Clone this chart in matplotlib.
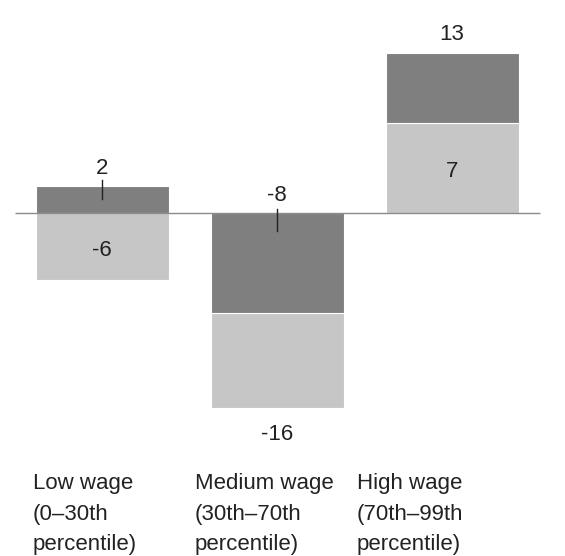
import matplotlib
matplotlib.use("Agg")
import matplotlib.pyplot as plt
import numpy as np

plt.rcParams['font.family'] = ['Liberation Sans', 'DejaVu Sans']

categories = ["Low wage\n(0–30th\npercentile)",
              "Medium wage\n(30th–70th\npercentile)",
              "High wage\n(70th–99th\npercentile)"]
dark_vals = [2.15, -8.1, 5.7]
light_vals = [-5.45, -7.7, 7.3]
dark_labels = ["2", "-8", "13"]
light_labels = ["-6", "-16", "7"]

DARK = "#7f7f7f"
LIGHT = "#c6c6c6"
TXT = "#222222"

W, H = 565, 556
fig = plt.figure(figsize=(W / 100, H / 100), dpi=100)
ax = fig.add_axes([0, 0, 1, 1])
ax.set_axis_off()

px_x = 175.0       # pixels per category unit
px_y = 12.33       # pixels per value unit
x0_px, zero_px = 102.0, 213.0
ax.set_xlim(-x0_px / px_x, (W - x0_px) / px_x)
ax.set_ylim(-(H - zero_px) / px_y, zero_px / px_y)

x = np.arange(len(categories))
bw = 133 / px_x
dark = np.array(dark_vals)
light = np.array(light_vals)

# stacking: positives stack light first then dark; negatives stack dark first then light
light_bottom = np.where((light < 0) & (dark < 0), dark, 0.0)
dark_bottom = np.where((dark > 0) & (light > 0), light, 0.0)

ax.bar(x, light, bottom=light_bottom, width=bw, color=LIGHT,
       edgecolor="white", linewidth=0.8, zorder=2)
ax.bar(x, dark, bottom=dark_bottom, width=bw, color=DARK,
       edgecolor="white", linewidth=0.8, zorder=2)

ax.hlines(0, -0.5, 2.5, color="#8a8a8a", linewidth=1.0, zorder=3)

fs = 16
d = 1.0 / px_y  # one pixel in value units
for i in range(len(x)):
    dtop = dark_bottom[i] + dark[i]
    ltop = light_bottom[i] + light[i]
    if i == 0:
        ax.text(x[i], dtop + 18 * d, dark_labels[i], ha="center", va="center",
                fontsize=fs, color=TXT)
        ax.plot([x[i], x[i]], [dtop + 6 * d, dtop - 13 * d], color=TXT,
                lw=1.0, zorder=4)
        ax.text(x[i], ltop / 2 - 4 * d, light_labels[i], ha="center", va="center",
                fontsize=fs, color=TXT)
    elif i == 1:
        ax.text(x[i], 18 * d, dark_labels[i], ha="center", va="center",
                fontsize=fs, color=TXT)
        ax.plot([x[i], x[i]], [4 * d, -18 * d], color=TXT, lw=1.0, zorder=4)
        ax.text(x[i], ltop - 27 * d, light_labels[i], ha="center", va="center",
                fontsize=fs, color=TXT)
    else:
        ax.text(x[i], dtop + 18 * d, dark_labels[i], ha="center", va="center",
                fontsize=fs, color=TXT)
        ax.text(x[i], light[i] / 2 - 4 * d, light_labels[i], ha="center", va="center",
                fontsize=fs, color=TXT)

label_x_px = [33, 195, 357]
for lx, lab in zip(label_x_px, categories):
    fig.text(lx / W, 1 - 473 / H, lab, ha="left", va="top", fontsize=fs,
             color=TXT, linespacing=1.6)

fig.savefig("out.png", dpi=100, facecolor="white")
